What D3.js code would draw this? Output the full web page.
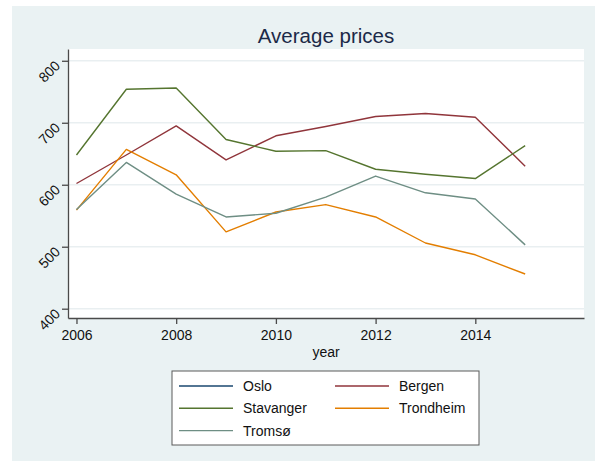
<!DOCTYPE html>
<html>
<head>
<meta charset="utf-8">
<script src="https://cdn.jsdelivr.net/npm/d3@7"></script>
<style>
	body { margin: 0; background: #fff; }
	svg { display: block; font-family: "Liberation Sans", Arial, Helvetica, sans-serif; }
	.grid line { stroke: #e9eff1; stroke-width: 1.5; }
	.axis path, .axis line { stroke: #4a4a4a; stroke-width: 1.3; }
	.axis text { font-size: 14px; fill: #111; }
	.series { fill: none; stroke-width: 1.4; stroke-linejoin: round; }
</style>
</head>
<body>
<svg class="chart" width="595" height="461"></svg>
<script>
//* Data
const years = [2006, 2007, 2008, 2009, 2010, 2011, 2012, 2013, 2014, 2015];
const oslo = []; // no line drawn for Oslo
const bergen = [602, 648, 695, 640, 679, 694, 710, 715, 709, 630];
const stavanger = [648, 754, 756, 673, 654, 655, 625, 617, 610, 663];
const trondheim = [559, 657, 616, 524, 556, 568, 548, 506, 487, 456];
const tromso = [560, 636, 585, 548, 554, 580, 614, 587, 577, 503];

const cities = ["Oslo", "Bergen", "Stavanger", "Trondheim", "Tromsø"];
const cityColors = ["#1a476f", "#90353b", "#55752f", "#e37e00", "#6e8e84"];
const seriesValues = [oslo, bergen, stavanger, trondheim, tromso];

const xTicks = [2006, 2008, 2010, 2012, 2014];
const yTicks = [400, 500, 600, 700, 800];

const svg = d3.select("svg.chart");

//* Layout
const plot = { left: 68, right: 584, top: 49, bottom: 318 };

const x = d3.scaleLinear().domain([2005.83, 2016.18]).range([plot.left, plot.right]);
const y = d3.scaleLinear().domain([385, 819]).range([plot.bottom, plot.top]);

//* Backgrounds
svg.append("rect")
	.attr("x", 12).attr("y", 6)
	.attr("width", 595 - 12).attr("height", 461 - 6)
	.attr("fill", "#eaf2f3");
svg.append("rect")
	.attr("x", plot.left).attr("y", plot.top)
	.attr("width", plot.right - plot.left).attr("height", plot.bottom - plot.top)
	.attr("fill", "#fff");

//* Grid
svg.append("g")
	.attr("class", "grid")
	.selectAll("line")
	.data(yTicks)
	.enter()
	.append("line")
	.attr("x1", plot.left)
	.attr("x2", plot.right)
	.attr("y1", (d) => y(d))
	.attr("y2", (d) => y(d));

//* Title
svg.append("text")
	.attr("x", (plot.left + plot.right) / 2)
	.attr("y", 43)
	.attr("text-anchor", "middle")
	.attr("font-size", "20.5px")
	.attr("fill", "#1c2a48")
	.text("Average prices");

//* Lines
const line = d3.line()
	.defined((d) => d != null)
	.x((_, i) => x(years[i]))
	.y((d) => y(d));

svg.append("g")
	.selectAll("path")
	.data(seriesValues)
	.enter()
	.append("path")
	.attr("class", "series")
	.attr("stroke", (_, i) => cityColors[i])
	.attr("d", (d) => (d.length ? line(d) : null));

//* Axes
const xAxis = svg.append("g")
	.attr("class", "axis")
	.attr("transform", `translate(0,${plot.bottom})`)
	.call(d3.axisBottom(x).tickValues(xTicks).tickFormat(d3.format("d")).tickSize(6).tickSizeOuter(0).tickPadding(6.5));

const yAxis = svg.append("g")
	.attr("class", "axis")
	.attr("transform", `translate(${plot.left},0)`)
	.call(d3.axisLeft(y).tickValues(yTicks).tickSize(6).tickSizeOuter(0));

yAxis.selectAll(".tick text")
	.attr("x", -7)
	.attr("dy", null)
	.attr("y", 5.5)
	.attr("text-anchor", "end")
	.attr("transform", "rotate(-45,-7,5.5)");

svg.append("text")
	.attr("x", (plot.left + plot.right) / 2)
	.attr("y", 357)
	.attr("text-anchor", "middle")
	.attr("font-size", "14px")
	.attr("fill", "#111")
	.text("year");

//* Legend
const legend = svg.append("g").attr("transform", "translate(172,371)");
legend.append("rect")
	.attr("width", 307)
	.attr("height", 74)
	.attr("fill", "#fff")
	.attr("stroke", "#5a5a5a")
	.attr("stroke-width", 1);

const items = legend.selectAll("g.item")
	.data(cities)
	.enter()
	.append("g")
	.attr("class", "item")
	.attr("transform", (_, i) => `translate(${(i % 2) * 156 + 7},${Math.floor(i / 2) * 22.3 + 15})`);

items.append("line")
	.attr("x1", 0).attr("x2", 54)
	.attr("stroke", (_, i) => cityColors[i])
	.attr("stroke-width", 1.4);

items.append("text")
	.attr("x", 64)
	.attr("y", 5)
	.attr("font-size", "14px")
	.attr("fill", "#111")
	.text((d) => d);
</script>
</body>
</html>
